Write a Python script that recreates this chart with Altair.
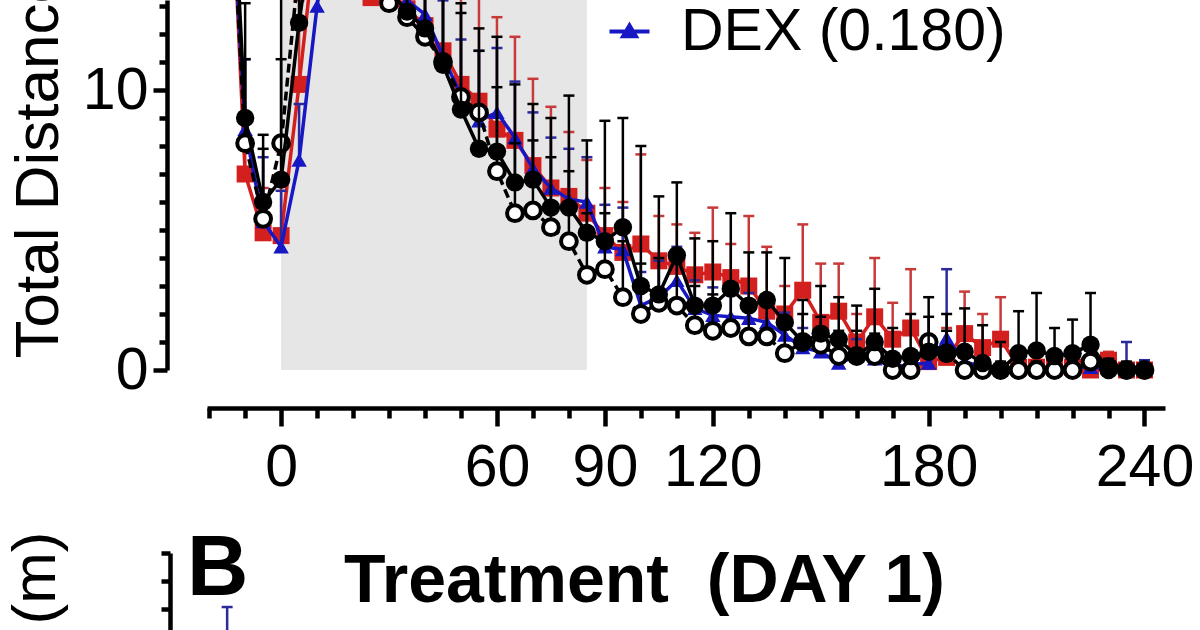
import altair as alt
import pandas as pd

FONT = "Liberation Sans"

# Time bins (min), 5-min resolution
t = [-15, -10, -5, 0, 5, 10, 15, 20, 25, 30,
     35, 40, 45, 50, 55, 60, 65, 70, 75, 80,
     85, 90, 95, 100, 105, 110, 115, 120, 125, 130,
     135, 140, 145, 150, 155, 160, 165, 170, 175, 180,
     185, 190, 195, 200, 205, 210, 215, 220, 225, 230, 235, 240]

# Red squares: mean and upper error (m)
red_mean = [21.0, 7.0, 4.9, 4.8, 10.2, 16.0, 18.0, 17.0, 13.3, 13.2,
            12.9, 12.3, 11.4, 10.2, 9.6, 8.6, 8.2, 7.3, 6.5, 6.2,
            5.6, 4.8, 4.2, 4.5, 3.9, 3.7, 3.4, 3.5, 3.3, 3.0,
            2.1, 2.0, 2.85, 1.7, 2.1, 1.0, 1.9, 1.1, 1.5, 0.3,
            0.45, 1.3, 0.8, 1.1, 0.1, 0.1, 0.1, 0.1, 0.0, 0.35, 0.0, 0.0]
red_err = [3.0, 2.0, 1.6, 3.0, 3.0, 3.0, 3.0, 3.0, 3.0, 3.0,
           3.0, 3.0, 3.5, 4.0, 4.5, 4.0, 3.7, 3.1, 2.9, 2.3,
           1.9, 1.7, 1.8, 3.2, 1.6, 1.5, 1.5, 2.3, 1.2, 2.5,
           2.3, 1.0, 2.35, 2.1, 1.7, 1.0, 2.1, 1.3, 2.1, 0.7,
           1.05, 1.5, 1.2, 1.5, 0.4, 0.4, 0.3, 0.3, 0.3, 0.3, 0.2, 0.2]

# Blue triangles: DEX (0.180)
blue_mean = [20.0, 8.6, 5.3, 4.4, 7.5, 13.0, 17.0, 17.0, 15.0, 14.0,
             13.2, 12.7, 11.2, 9.8, 8.9, 9.2, 8.3, 7.2, 6.5, 6.1,
             6.0, 4.4, 4.3, 2.3, 2.6, 3.2, 2.2, 1.95, 1.9, 1.85,
             1.7, 1.25, 0.8, 0.65, 0.25, 0.5, 0.4, 0.1, 0.2, 0.25,
             1.15, 0.3, 0.1, 0.0, 0.0, 0.0, 0.0, 0.1, 0.1, 0.05, 0.1, 0.1]
blue_err = [2.5, 2.5, 2.3, 2.0, 2.0, 2.0, 2.0, 2.0, 2.0, 2.0,
            2.0, 2.0, 2.0, 2.0, 2.5, 2.3, 2.0, 2.0, 1.8, 1.8,
            1.6, 1.5, 1.5, 1.2, 1.3, 1.2, 1.0, 1.0, 1.0, 0.9,
            0.9, 0.8, 0.7, 0.7, 0.5, 0.6, 0.5, 0.4, 0.4, 0.4,
            2.45, 0.5, 0.3, 0.2, 0.2, 0.2, 0.2, 0.3, 0.3, 0.3, 0.9, 0.25]

# Open circles (dashed line)
open_mean = [20.0, 8.1, 5.4, 8.1, 14.5, 17.0, 18.0, 16.0, 14.0, 13.1,
             12.6, 11.9, 11.0, 9.75, 9.2, 7.1, 5.6, 5.7, 5.1, 4.6,
             3.4, 3.6, 2.6, 2.0, 2.4, 2.3, 1.6, 1.4, 1.5, 1.2,
             1.2, 0.6, 1.0, 0.9, 0.5, 0.5, 0.5, 0.0, 0.0, 1.0,
             0.6, 0.0, 0.0, 0.0, 0.0, 0.0, 0.0, 0.0, 0.3, 0.1, 0.0, 0.0]
open_err = [3.0, 3.0, 2.5, 3.0, 3.0, 3.0, 3.0, 3.0, 3.0, 3.0,
            3.0, 3.0, 3.0, 3.0, 3.0, 3.0, 2.5, 2.5, 2.5, 2.5,
            2.2, 2.0, 2.0, 1.8, 1.6, 1.5, 1.4, 1.3, 1.3, 1.2,
            1.2, 1.1, 1.0, 1.0, 0.9, 0.9, 0.8, 0.6, 0.6, 0.9,
            0.8, 0.5, 0.4, 0.3, 0.3, 0.3, 0.3, 0.3, 0.5, 0.3, 0.2, 0.2]

# Filled black circles
fill_mean = [22.0, 9.0, 6.0, 6.8, 12.4, 17.0, 19.0, 18.0, 15.0, 13.6,
             12.8, 12.2, 10.9, 9.3, 7.9, 7.8, 6.7, 6.8, 5.8, 5.8,
             4.9, 4.6, 5.1, 3.0, 2.7, 4.1, 2.3, 2.3, 2.9, 2.3,
             2.5, 1.7, 1.0, 1.3, 1.1, 0.5, 1.0, 0.4, 0.5, 0.65,
             0.6, 0.65, 0.25, 0.0, 0.6, 0.7, 0.5, 0.6, 0.9, 0.0, 0.0, 0.0]
fill_err = [4.0, 4.1, 2.4, 7.0, 4.0, 4.0, 4.0, 4.0, 4.0, 4.0,
            4.0, 4.0, 4.0, 3.8, 3.5, 4.1, 3.5, 2.7, 3.2, 4.0,
            3.3, 4.3, 3.9, 5.0, 3.5, 2.6, 2.4, 2.3, 2.7, 1.9,
            1.7, 2.3, 1.5, 1.7, 1.5, 1.8, 1.9, 1.1, 1.5, 1.95,
            1.4, 1.55, 1.35, 1.0, 1.5, 2.05, 1.0, 1.2, 1.85, 0.3, 0.3, 0.2]

# Treatment window (min)
shade_start = [0]
shade_end = [85]

# Panel B: the only visible point (upper part of its error bar)
b_t = [-15]
b_mean = [16.0]
b_err = [7.07]

x_ticks = list(range(-20, 241, 10))
x_major = [0, 60, 90, 120, 180, 240]
y_ticks = list(range(0, 14))

legend_label = "DEX (0.180)"
panel_letter = ["B"]
# non-breaking space keeps the double gap in SVG text
panel_title = ["Treatment\u00a0 (DAY 1)"]
y_title = "Total Distance (m)"

RED = "#d41f1f"
RED_BAR = "#c83a3a"
BLUE = "#1717c4"
BLUE_BAR = "#2a2a9c"
BLACK = "#000000"
GRAY = "#e6e6e6"

major_test = "indexof([" + ",".join(str(v) for v in x_major) + "], datum.value) >= 0"

x_scale = alt.Scale(domain=[-20.6, 245.7], nice=False, zero=False)
x_axis = alt.Axis(
    values=x_ticks, orient="bottom", offset=-222, title=None, grid=False,
    labelExpr=f"{major_test} ? datum.label : ''",
    tickSize={"condition": {"test": major_test, "value": 18}, "value": 10},
    tickWidth=4.5, domainWidth=4.5, tickColor=BLACK, domainColor=BLACK,
    labelFont=FONT, labelFontSize=59, labelColor=BLACK, labelPadding=12,
    labelOverlap=False, labelFlush=False,
)

ya_scale = alt.Scale(domain=[0, 370 / 28], range=[370, 0], nice=False, zero=False)
ya_axis = alt.Axis(
    values=y_ticks, orient="left", offset=40, grid=False,
    labelExpr="datum.value % 10 == 0 ? datum.label : ''",
    tickSize={"condition": {"test": "datum.value % 10 == 0", "value": 14}, "value": 8},
    tickWidth=4.5, domainWidth=4.5, tickColor=BLACK, domainColor=BLACK,
    labelFont=FONT, labelFontSize=59, labelColor=BLACK, labelPadding=5,
    labelOverlap=False, labelFlush=False,
    title=y_title, titleFont=FONT, titleFontSize=62, titleFontWeight="normal",
    titleColor=BLACK, titleAngle=270, titleAlign="left", titleBaseline="alphabetic",
    titleX=-110, titleY=358,
)

yb_scale = alt.Scale(domain=[25 - 107 / 28, 25], range=[660, 553], nice=False, zero=False)
yb_axis = alt.Axis(
    values=[22, 23, 24, 25], orient="left", offset=37, grid=False, labels=False,
    tickSize=9, tickWidth=4.5, domainWidth=4.5, tickColor=BLACK, domainColor=BLACK,
    title=y_title, titleFont=FONT, titleFontSize=62, titleFontWeight="normal",
    titleColor=BLACK, titleAngle=270, titleAlign="right", titleBaseline="alphabetic",
    titleX=-116, titleY=531,
)


def X(field):
    return alt.X(f"{field}:Q", scale=x_scale, axis=x_axis)


def YA(field):
    return alt.Y(f"{field}:Q", scale=ya_scale, axis=ya_axis)


def YB(field):
    return alt.Y(f"{field}:Q", scale=yb_scale, axis=yb_axis)


def series(mean, err, line_color, bar_color, point_kw, dash=None, color_enc=None):
    df = pd.DataFrame({"t": t, "mean": mean, "err": err})
    base = alt.Chart(df).transform_calculate(top="datum.mean + datum.err").encode(x=X("t"))
    bars = base.mark_rule(color=bar_color, strokeWidth=2.5).encode(y=YA("mean"), y2=alt.Y2("top:Q"))
    caps = base.mark_tick(orient="horizontal", size=11, thickness=2.5, color=bar_color,
                          opacity=1).encode(y=YA("top"))
    line_kw = dict(color=line_color, strokeWidth=3.5)
    if dash:
        line_kw["strokeDash"] = dash
    line = base.mark_line(**line_kw).encode(y=YA("mean"))
    pts = base.mark_point(opacity=1, **point_kw).encode(y=YA("mean"))
    if color_enc is not None:
        pts = pts.encode(color=color_enc)
    return [bars, caps, line, pts]


shade = alt.Chart(pd.DataFrame({"start": shade_start, "end": shade_end,
                                "lo": [0.0], "hi": [20.0]})).mark_rect(color=GRAY).encode(
    x=X("start"), x2=alt.X2("end:Q"), y=YA("lo"), y2=alt.Y2("hi:Q"))

legend = alt.Legend(
    orient="none", legendX=393, legendY=2, title=None, padding=0,
    symbolType="M-1,0L1,0M0,-0.3L0.32,0.24L-0.32,0.24Z",
    symbolSize=1600, symbolStrokeWidth=4, symbolStrokeColor=BLUE, symbolFillColor=BLUE,
    labelFont=FONT, labelFontSize=59, labelColor=BLACK, labelOffset=22, labelLimit=600,
)
blue_color = alt.Color("group:N", scale=alt.Scale(domain=[legend_label], range=[BLUE]), legend=legend)

red_layers = series(red_mean, red_err, RED, RED_BAR,
                    dict(shape="square", filled=True, size=289, color=RED))
blue_layers = series(blue_mean, blue_err, BLUE, BLUE_BAR,
                     dict(shape="triangle-up", filled=True, size=240),
                     color_enc=blue_color)
blue_layers[-1] = blue_layers[-1].transform_calculate(group=f"'{legend_label}'")
open_layers = series(open_mean, open_err, BLACK, BLACK,
                     dict(shape="circle", filled=True, fill="white", stroke=BLACK,
                          strokeWidth=4, size=250),
                     dash=[9, 5])
fill_layers = series(fill_mean, fill_err, BLACK, BLACK,
                     dict(shape="circle", filled=True, size=340, color=BLACK))

panel_a = alt.layer(shade, *red_layers, *blue_layers, *open_layers, *fill_layers)

b_df = pd.DataFrame({"t": b_t, "mean": b_mean, "err": b_err})
b_base = alt.Chart(b_df).transform_calculate(top="datum.mean + datum.err").encode(x=X("t"))
panel_b = alt.layer(
    b_base.mark_rule(color=BLUE_BAR, strokeWidth=2.5).encode(y=YB("mean"), y2=alt.Y2("top:Q")),
    b_base.mark_tick(orient="horizontal", size=11, thickness=2.5, color=BLUE_BAR,
                     opacity=1).encode(y=YB("top")),
)

letter = alt.Chart(pd.DataFrame({"label": panel_letter})).mark_text(
    align="left", baseline="alphabetic", font=FONT, fontSize=85, fontWeight="bold",
    color=BLACK).encode(text="label:N", x=alt.value(-20), y=alt.value(595))
title = alt.Chart(pd.DataFrame({"label": panel_title})).mark_text(
    align="left", baseline="alphabetic", font=FONT, fontSize=68, fontWeight="bold",
    color=BLACK).encode(text="label:N", x=alt.value(137), y=alt.value(602))

chart = alt.layer(panel_a, panel_b, letter, title).resolve_scale(
    y="independent").resolve_axis(y="independent").properties(
    width=958, height=630,
    autosize=alt.AutoSizeParams(type="none"),
    padding={"left": 207, "top": 0, "right": 35, "bottom": 0},
    background="white",
).configure_view(stroke=None)

chart.save("out.html", embed_options={"renderer": "svg", "actions": False})
